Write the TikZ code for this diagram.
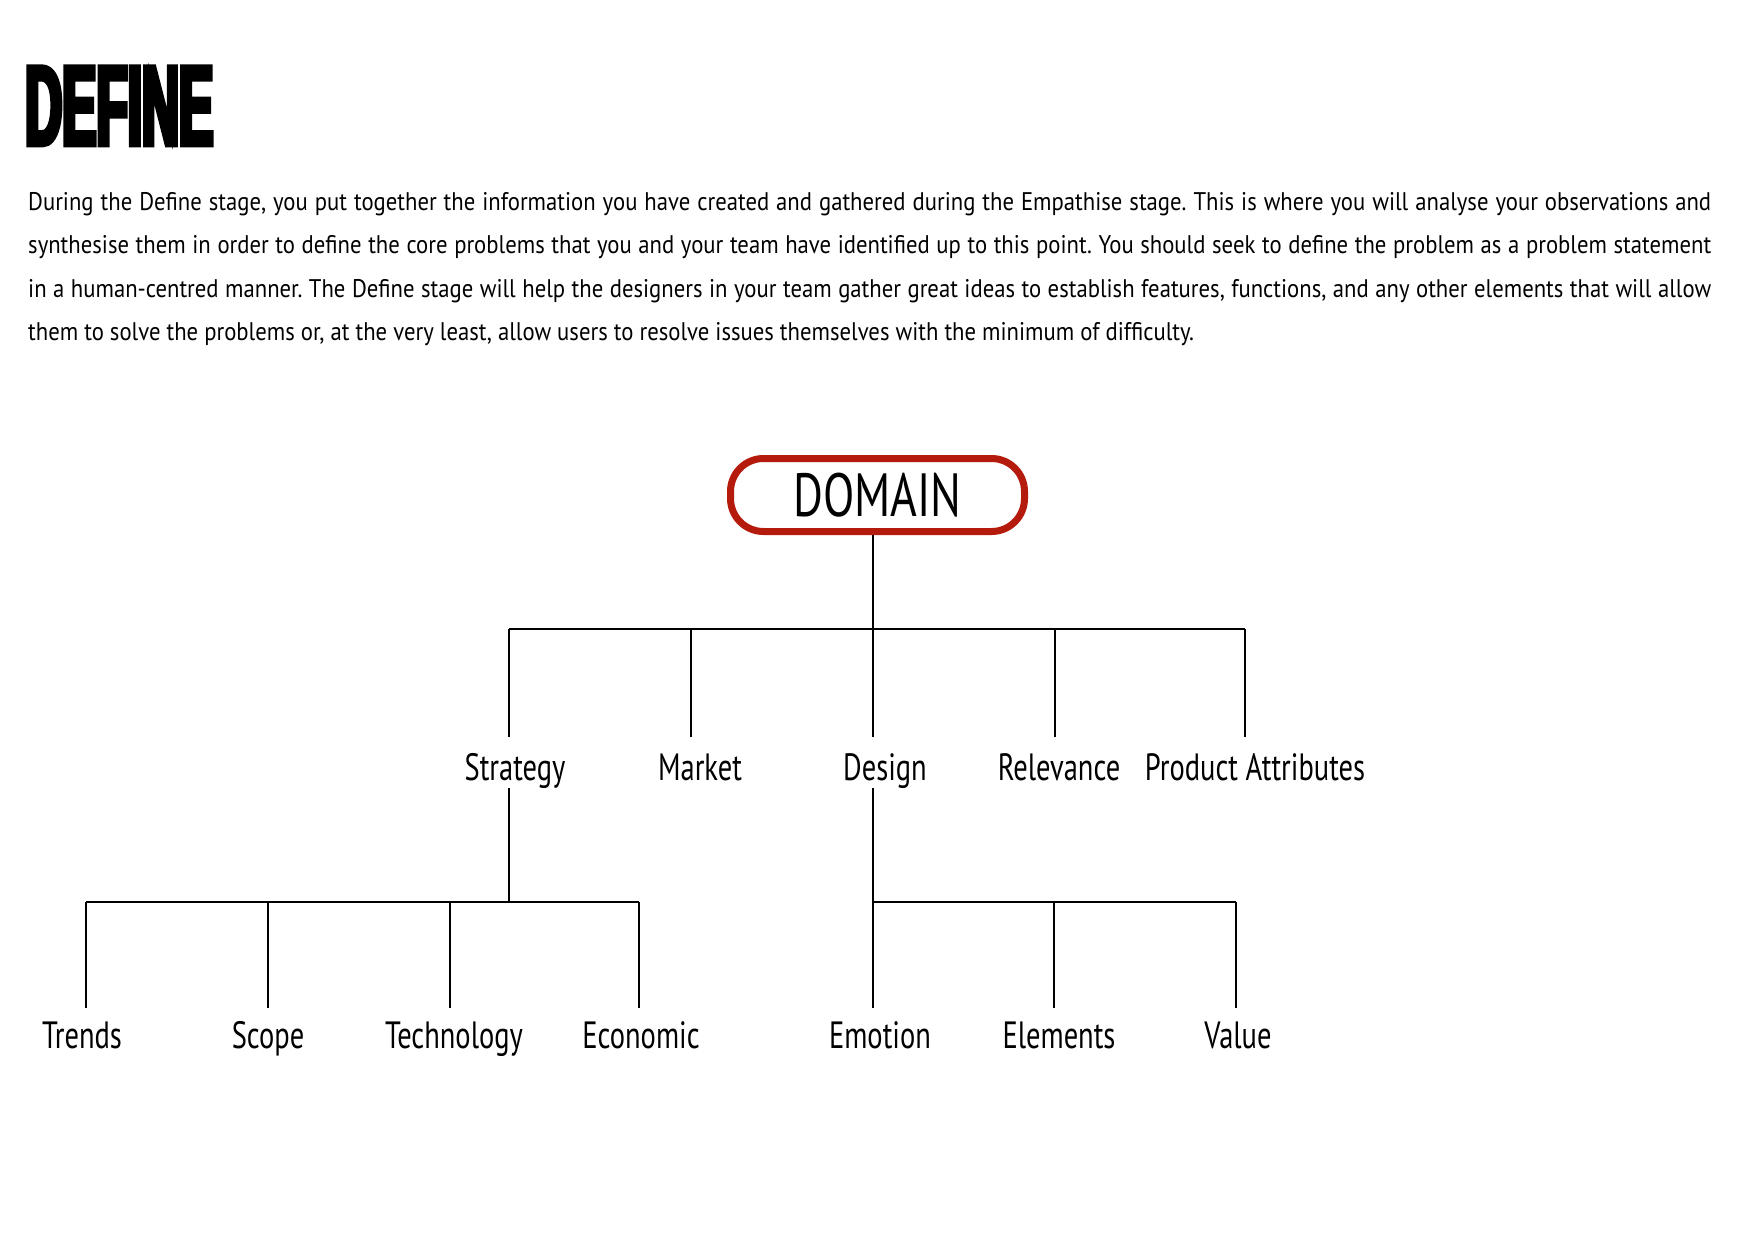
\documentclass[tikz,border=0pt]{standalone}
\usepackage{fontspec}
\setmainfont{PT Sans}
\newfontfamily\parafont{PT Sans}[FakeStretch=0.89]
\newfontfamily\labelfont{PT Sans}[FakeStretch=0.75]
\newfontfamily\titlefont{Liberation Sans}[UprightFont=*-Bold,FakeStretch=0.45,FakeBold=4]
\definecolor{domainred}{RGB}{181,27,12}
\tikzset{
  conn/.style={line width=2pt},
  lbl/.style={anchor=base, inner sep=0pt, font=\labelfont\fontsize{38}{40}\selectfont},
  domainbox/.style={draw=domainred, line width=7pt, rounded corners=33pt, minimum width=294pt, minimum height=73pt, inner sep=0pt, font=\labelfont\fontsize{61}{64}\selectfont},
}
\frenchspacing
\begin{document}
\begin{tikzpicture}[x=1pt,y=-1pt]
\useasboundingbox (0,0) rectangle (1754,1241);
\fill[white] (0,0) rectangle (1754,1241);
% title
\node[anchor=base west, inner sep=0pt, font=\titlefont\fontsize{114}{114}\selectfont] (title) at (25,145) {DEFINE};
% paragraph
\node[anchor=north west, inner sep=0pt, text width=1683pt, align=justify,
  font=\parafont\fontsize{25.5}{43.5}\selectfont\frenchspacing] (para) at (28,192)
{During the Define stage, you put together the information you have created and gathered during the Empathise stage. This is where you will analyse your observations and\linebreak
synthesise them in order to define the core problems that you and your team have identified up to this point. You should seek to define the problem as a problem statement\linebreak
in a human-centred manner. The Define stage will help the designers in your team gather great ideas to establish features, functions, and any other elements that will allow\linebreak
them to solve the problems or, at the very least, allow users to resolve issues themselves with the minimum of difficulty.};
% root
\node[domainbox] (domain) at (877.5,495) {DOMAIN};
% junctions
\coordinate (j0) at (873,629);
\coordinate (bS) at (509,629); \coordinate (eS) at (509,737);
\coordinate (bM) at (691,629); \coordinate (eM) at (691,737);
\coordinate (bD) at (873,629); \coordinate (eD) at (873,737);
\coordinate (bR) at (1055,629); \coordinate (eR) at (1055,737);
\coordinate (bP) at (1245,629); \coordinate (eP) at (1245,737);
% level 1 labels
\node[lbl] (strategy) at (515,780) {Strategy};
\node[lbl] (market) at (700,780) {Market};
\node[lbl] (design) at (885,780) {Design};
\node[lbl] (relevance) at (1059,780) {Relevance};
\node[lbl] (product) at (1255,780) {Product Attributes};
% level 2 coordinates
\coordinate (sS) at (509,788); \coordinate (sJ) at (509,902);
\coordinate (dS) at (873,788); \coordinate (dJ) at (873,902);
\coordinate (cT) at (86,902);  \coordinate (fT) at (86,1008);
\coordinate (cSc) at (268,902); \coordinate (fSc) at (268,1008);
\coordinate (cTe) at (450,902); \coordinate (fTe) at (450,1008);
\coordinate (cEc) at (639,902); \coordinate (fEc) at (639,1008);
\coordinate (cEm) at (873,902); \coordinate (fEm) at (873,1008);
\coordinate (cEl) at (1054,902); \coordinate (fEl) at (1054,1008);
\coordinate (cV) at (1236,902); \coordinate (fV) at (1236,1008);
% level 2 labels
\node[lbl] (trends) at (82,1048) {Trends};
\node[lbl] (scope) at (268,1048) {Scope};
\node[lbl] (technology) at (454,1048) {Technology};
\node[lbl] (economic) at (641,1048) {Economic};
\node[lbl] (emotion) at (880,1048) {Emotion};
\node[lbl] (elements) at (1059,1048) {Elements};
\node[lbl] (value) at (1238,1048) {Value};
% connectors
\draw[conn] (domain.south -| j0) -- (j0);
\draw[conn] (bS) -- (bP);
\draw[conn] (bS) -- (eS);
\draw[conn] (bM) -- (eM);
\draw[conn] (bD) -- (eD);
\draw[conn] (bR) -- (eR);
\draw[conn] (bP) -- (eP);
\draw[conn] (sS) -- (sJ);
\draw[conn] (dS) -- (dJ);
\draw[conn] (cT) -- (cEc);
\draw[conn] (cEm) -- (cV);
\draw[conn] (cT) -- (fT);
\draw[conn] (cSc) -- (fSc);
\draw[conn] (cTe) -- (fTe);
\draw[conn] (cEc) -- (fEc);
\draw[conn] (cEm) -- (fEm);
\draw[conn] (cEl) -- (fEl);
\draw[conn] (cV) -- (fV);
\end{tikzpicture}
\end{document}
